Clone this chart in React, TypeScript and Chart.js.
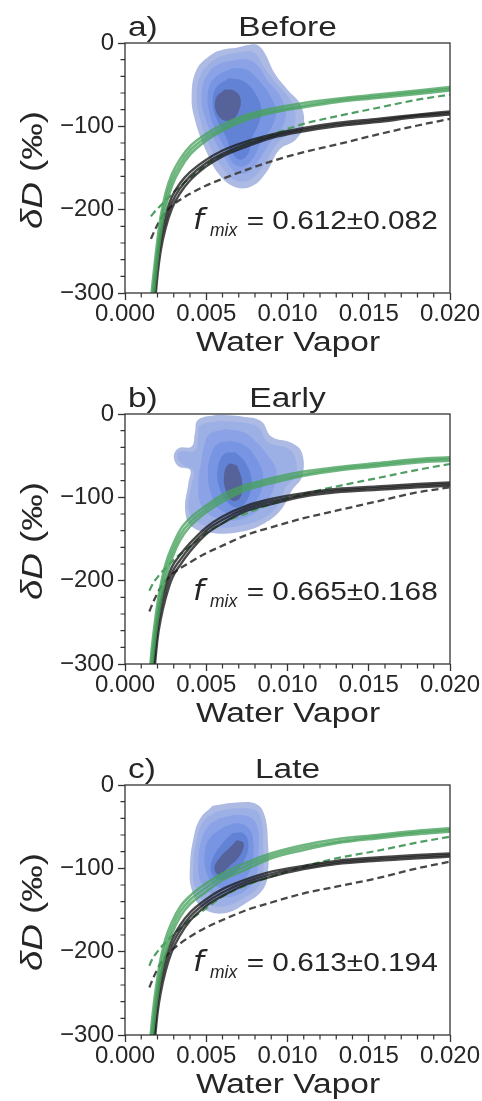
import { useEffect, useRef } from 'react'
import { Chart, registerables } from 'chart.js'

Chart.register(...registerables)

const FONT = "'Liberation Sans', Arial, Helvetica, sans-serif"
const MATH_FONT = "'DejaVu Sans', 'Liberation Sans', sans-serif"
const TEXT = '#262626'

// water vapour grid shared by all mixing curves
const WATER_VAPOR = [0.0015, 0.0016, 0.0018, 0.002, 0.0022, 0.0025, 0.0029, 0.0034, 0.004, 0.005, 0.006, 0.0075, 0.009, 0.011, 0.013, 0.0155, 0.018, 0.02]

const X_MAJOR = [0, 0.005, 0.01, 0.015, 0.02]
const Y_MAJOR = [0, -100, -200, -300]

const PANEL_LETTERS = ['a)', 'b)', 'c)']
const PANEL_TITLES = ['Before', 'Early', 'Late']
const FMIX_TEXT = ['0.612\u00b10.082', '0.665\u00b10.168', '0.613\u00b10.194']

// a) Before
const BEFORE_GREEN_1 = [-345, -310, -270, -236, -208, -180, -157, -139, -124, -109, -98, -86, -79, -72, -67, -62, -57, -53]
const BEFORE_GREEN_2 = [-360, -325, -284, -248, -218, -188, -164, -145, -129, -113, -102, -89, -82, -75, -69, -64, -59, -55]
const BEFORE_GREEN_3 = [-378, -342, -299, -261, -229, -197, -171, -151, -134, -117, -105, -92, -84, -77, -71, -66, -61, -57]
const BEFORE_BLACK_1 = [-400, -362, -296, -254, -228, -206, -184, -168, -155, -140, -129, -118, -110, -102, -96, -91, -86, -82]
const BEFORE_BLACK_2 = [-420, -380, -310, -266, -238, -214, -191, -174, -160, -144, -133, -121, -112, -104, -98, -93, -87, -84]
const BEFORE_BLACK_3 = [-440, -398, -325, -279, -249, -222, -198, -180, -165, -148, -136, -124, -114, -106, -100, -95, -89, -86]
const BEFORE_GREEN_DASHED = [null, -208, -203, -199, -195, -189, -181, -172, -162, -146, -134, -121, -110, -97, -88, -78, -68, -62]
const BEFORE_BLACK_DASHED = [null, -235, -226, -218, -211, -203, -195, -188, -181, -171, -163, -152, -142, -131, -122, -110, -99, -91]

const BEFORE_KDE_1 = [[0.0068, -6], [0.0077, -2], [0.0082, -3], [0.0086, -12], [0.0092, -36], [0.01, -56], [0.0108, -74], [0.011, -98], [0.0105, -116], [0.0095, -128], [0.0087, -155], [0.0078, -172], [0.0068, -173], [0.0058, -158], [0.005, -130], [0.0043, -92], [0.0041, -64], [0.0044, -32], [0.0053, -14], [0.006, -8], [0.0068, -6]]
const BEFORE_KDE_2 = [[0.0068, -12], [0.0076, -10], [0.0081, -14], [0.0086, -30], [0.0093, -48], [0.0101, -66], [0.0105, -86], [0.0102, -106], [0.0093, -122], [0.0085, -148], [0.0077, -164], [0.0068, -165], [0.006, -150], [0.0052, -124], [0.0046, -90], [0.0044, -62], [0.0047, -36], [0.0055, -20], [0.0062, -14], [0.0068, -12]]
const BEFORE_KDE_3 = [[0.0068, -20], [0.0076, -20], [0.0082, -28], [0.0088, -46], [0.0095, -62], [0.0099, -84], [0.0096, -104], [0.0089, -120], [0.0082, -142], [0.0075, -156], [0.0068, -155], [0.0062, -140], [0.0055, -116], [0.0049, -88], [0.0047, -62], [0.005, -40], [0.0057, -26], [0.0068, -20]]
const BEFORE_KDE_4 = [[0.0066, -30], [0.0075, -32], [0.0082, -44], [0.0089, -62], [0.0093, -82], [0.009, -102], [0.0084, -118], [0.0079, -138], [0.0073, -148], [0.0067, -145], [0.0062, -128], [0.0056, -106], [0.0052, -84], [0.0051, -60], [0.0055, -42], [0.0066, -30]]
const BEFORE_KDE_5 = [[0.0064, -42], [0.0073, -46], [0.008, -60], [0.0084, -80], [0.0082, -98], [0.0078, -114], [0.0076, -132], [0.0071, -140], [0.0066, -132], [0.0062, -112], [0.0057, -94], [0.0054, -74], [0.0056, -54], [0.0064, -42]]
const BEFORE_KDE_6 = [[0.0061, -56], [0.0067, -57], [0.0071, -66], [0.007, -82], [0.0066, -92], [0.006, -92], [0.0056, -82], [0.0056, -66], [0.0061, -56]]

// b) Early
const EARLY_GREEN_1 = [-320, -292, -256, -227, -205, -180, -159, -139, -125, -110, -97, -85, -77, -69, -64, -59, -54, -52]
const EARLY_GREEN_2 = [-335, -305, -268, -238, -214, -188, -166, -145, -130, -114, -101, -88, -80, -72, -66, -61, -56, -54]
const EARLY_GREEN_3 = [-352, -320, -281, -249, -224, -197, -173, -151, -135, -118, -105, -91, -83, -74, -68, -63, -58, -56]
const EARLY_BLACK_1 = [-382, -344, -285, -247, -225, -204, -183, -169, -155, -136, -123, -110, -102, -95, -90, -87, -84, -82]
const EARLY_BLACK_2 = [-400, -360, -298, -258, -235, -212, -190, -175, -160, -140, -127, -113, -105, -97, -92, -89, -86, -84]
const EARLY_BLACK_3 = [-420, -378, -312, -270, -246, -221, -197, -181, -165, -144, -131, -116, -108, -99, -94, -91, -88, -86]
const EARLY_GREEN_DASHED = [-212, -208, -201, -196, -191, -185, -177, -168, -159, -143, -131, -119, -108, -96, -87, -77, -67, -60]
const EARLY_BLACK_DASHED = [-237, -232, -223, -215, -208, -200, -192, -185, -178, -167, -158, -145, -136, -125, -116, -105, -94, -88]

const EARLY_KDE_1 = [[0.0057, -1], [0.0072, -3], [0.0084, -9], [0.009, -27], [0.0103, -35], [0.0109, -47], [0.0109, -75], [0.0103, -91], [0.0096, -115], [0.0086, -131], [0.0072, -141], [0.0055, -143], [0.0041, -135], [0.0037, -115], [0.0039, -83], [0.004, -67], [0.0033, -63], [0.003, -51], [0.0033, -41], [0.0041, -39], [0.0043, -23], [0.0045, -7], [0.0057, -1]]
const EARLY_KDE_2 = [[0.0058, -8], [0.0071, -10], [0.0082, -16], [0.0088, -34], [0.0101, -42], [0.0105, -54], [0.0105, -74], [0.0099, -88], [0.0094, -110], [0.0085, -125], [0.0071, -134], [0.0056, -136], [0.0043, -128], [0.0039, -112], [0.0041, -84], [0.0042, -68], [0.0035, -60], [0.0032, -51], [0.0034, -45], [0.0043, -44], [0.0045, -26], [0.0046, -14], [0.0058, -8]]
const EARLY_KDE_3 = [[0.0062, -18], [0.0073, -22], [0.0081, -34], [0.0088, -50], [0.0093, -66], [0.0092, -86], [0.0087, -106], [0.0079, -120], [0.0067, -128], [0.0055, -124], [0.0047, -110], [0.0045, -86], [0.0047, -56], [0.0049, -36], [0.0052, -24], [0.0062, -18]]
const EARLY_KDE_4 = [[0.0065, -32], [0.0074, -38], [0.0081, -54], [0.0085, -74], [0.0083, -96], [0.0077, -112], [0.0067, -120], [0.0058, -114], [0.0053, -96], [0.0051, -72], [0.0053, -48], [0.0057, -36], [0.0065, -32]]
const EARLY_KDE_5 = [[0.0068, -46], [0.0074, -58], [0.0078, -80], [0.0076, -100], [0.007, -112], [0.0063, -106], [0.0058, -88], [0.0057, -66], [0.0061, -48], [0.0068, -46]]
const EARLY_KDE_6 = [[0.0069, -62], [0.0072, -80], [0.0071, -100], [0.0066, -104], [0.0062, -92], [0.0061, -72], [0.0064, -60], [0.0069, -62]]

// c) Late
const LATE_GREEN_1 = [-325, -296, -259, -231, -208, -184, -164, -146, -133, -118, -106, -93, -82, -72, -65, -60, -55, -52]
const LATE_GREEN_2 = [-340, -310, -272, -242, -218, -193, -171, -152, -138, -123, -110, -97, -85, -75, -68, -62, -57, -54]
const LATE_GREEN_3 = [-356, -325, -286, -254, -228, -202, -178, -158, -143, -128, -114, -101, -88, -78, -70, -64, -59, -56]
const LATE_BLACK_1 = [-382, -346, -289, -251, -228, -206, -185, -168, -153, -137, -125, -113, -104, -97, -91, -87, -84, -82]
const LATE_BLACK_2 = [-400, -362, -302, -262, -238, -214, -192, -174, -158, -141, -129, -116, -107, -99, -93, -89, -86, -84]
const LATE_BLACK_3 = [-420, -380, -316, -274, -249, -223, -199, -180, -163, -145, -133, -119, -110, -101, -95, -91, -88, -86]
const LATE_GREEN_DASHED = [-217, -212, -205, -200, -195, -189, -181, -172, -162, -148, -134, -120, -110, -98, -88, -79, -69, -62]
const LATE_BLACK_DASHED = [-243, -238, -229, -221, -214, -206, -198, -190, -182, -171, -162, -150, -141, -130, -122, -112, -100, -92]

const LATE_KDE_1 = [[0.0054, -25], [0.0069, -21], [0.0081, -23], [0.0086, -37], [0.0088, -69], [0.0088, -105], [0.0085, -125], [0.0075, -141], [0.0061, -154], [0.0048, -148], [0.0041, -125], [0.004, -97], [0.0042, -65], [0.0046, -41], [0.0054, -25]]
const LATE_KDE_2 = [[0.0056, -32], [0.0069, -28], [0.008, -30], [0.0084, -42], [0.0085, -70], [0.0085, -104], [0.0082, -122], [0.0073, -136], [0.006, -146], [0.0049, -140], [0.0043, -122], [0.0042, -96], [0.0044, -66], [0.0048, -44], [0.0056, -32]]
const LATE_KDE_3 = [[0.0058, -40], [0.0069, -36], [0.0078, -40], [0.0082, -54], [0.0082, -84], [0.0081, -108], [0.0076, -124], [0.0066, -134], [0.0055, -132], [0.0047, -118], [0.0045, -94], [0.0047, -66], [0.0051, -50], [0.0058, -40]]
const LATE_KDE_4 = [[0.0061, -50], [0.007, -46], [0.0077, -54], [0.0079, -72], [0.0078, -96], [0.0073, -114], [0.0064, -124], [0.0055, -120], [0.005, -104], [0.0049, -84], [0.0052, -64], [0.0061, -50]]
const LATE_KDE_5 = [[0.0066, -58], [0.0073, -58], [0.0076, -72], [0.0073, -92], [0.0066, -108], [0.0058, -114], [0.0053, -104], [0.0054, -88], [0.006, -70], [0.0066, -58]]
const LATE_KDE_6 = [[0.0069, -66], [0.0073, -70], [0.0071, -84], [0.0064, -98], [0.0058, -108], [0.0055, -100], [0.0058, -88], [0.0064, -76], [0.0069, -66]]

const KDE_COLORS = ['#adbae4', '#9db0e6', '#8ba3e6', '#7795e2', '#6182d5', '#56639a']

const PANELS = [
  {
    green: [BEFORE_GREEN_1, BEFORE_GREEN_2, BEFORE_GREEN_3],
    black: [BEFORE_BLACK_1, BEFORE_BLACK_2, BEFORE_BLACK_3],
    greenDashed: BEFORE_GREEN_DASHED,
    blackDashed: BEFORE_BLACK_DASHED,
    kde: [BEFORE_KDE_1, BEFORE_KDE_2, BEFORE_KDE_3, BEFORE_KDE_4, BEFORE_KDE_5, BEFORE_KDE_6],
  },
  {
    green: [EARLY_GREEN_1, EARLY_GREEN_2, EARLY_GREEN_3],
    black: [EARLY_BLACK_1, EARLY_BLACK_2, EARLY_BLACK_3],
    greenDashed: EARLY_GREEN_DASHED,
    blackDashed: EARLY_BLACK_DASHED,
    kde: [EARLY_KDE_1, EARLY_KDE_2, EARLY_KDE_3, EARLY_KDE_4, EARLY_KDE_5, EARLY_KDE_6],
  },
  {
    green: [LATE_GREEN_1, LATE_GREEN_2, LATE_GREEN_3],
    black: [LATE_BLACK_1, LATE_BLACK_2, LATE_BLACK_3],
    greenDashed: LATE_GREEN_DASHED,
    blackDashed: LATE_BLACK_DASHED,
    kde: [LATE_KDE_1, LATE_KDE_2, LATE_KDE_3, LATE_KDE_4, LATE_KDE_5, LATE_KDE_6],
  },
]

const isMajorX = (v: number) => X_MAJOR.some((m) => Math.abs(m - v) < 1e-7)
const isMajorY = (v: number) => Y_MAJOR.some((m) => Math.abs(m - v) < 1e-7)

// draws text stretched horizontally by sx
function drawText(ctx: CanvasRenderingContext2D, text: string, x: number, y: number, font: string, align: 'left' | 'center', sx: number) {
  ctx.save()
  ctx.font = font
  ctx.textAlign = 'left'
  ctx.textBaseline = 'alphabetic'
  const w = ctx.measureText(text).width * sx
  const x0 = align === 'center' ? x - w / 2 : x
  ctx.translate(x0, y)
  ctx.scale(sx, 1)
  ctx.fillText(text, 0, 0)
  ctx.restore()
}

function MixingPanel({ index, height }: { index: number; height: number }) {
  const canvasRef = useRef<HTMLCanvasElement>(null)

  useEffect(() => {
    if (!canvasRef.current) return
    const panel = PANELS[index]

    const curve = (ys: (number | null)[], color: string, width: number, dash: number[], order: number) => ({
      data: WATER_VAPOR.map((x, i) => ({ x, y: ys[i] })),
      borderColor: color,
      borderWidth: width,
      borderDash: dash,
      fill: false,
      cubicInterpolationMode: 'monotone',
      pointRadius: 0,
      order,
    })

    const kde = panel.kde.map((poly, i) => ({
      data: poly.map(([x, y]) => ({ x, y })),
      backgroundColor: KDE_COLORS[i],
      borderColor: 'rgba(0,0,0,0)',
      borderWidth: 0,
      fill: 'shape',
      tension: 0.4,
      pointRadius: 0,
      order: 30 - i,
    }))

    const datasets = [
      ...kde,
      curve(panel.blackDashed, '#474747', 2.3, [7, 4], 9),
      curve(panel.greenDashed, '#4f9e63', 2.2, [7, 4], 8),
      ...panel.black.map((ys, i) => curve(ys, 'rgba(28,28,28,0.8)', 2.4, [], 6 - i)),
      ...panel.green.map((ys, i) => curve(ys, 'rgba(72,162,92,0.78)', 2.6, [], 3 - i)),
    ]

    const decor = {
      id: 'panelDecor',
      afterDraw(chart: Chart) {
        const { ctx, chartArea: a } = chart
        const xs = chart.scales.x
        const ys = chart.scales.y
        ctx.save()
        ctx.strokeStyle = '#333'
        ctx.lineWidth = 1.2
        ctx.beginPath()
        for (const t of xs.ticks) {
          if (isMajorX(t.value)) continue
          const px = xs.getPixelForValue(t.value)
          ctx.moveTo(px, a.bottom)
          ctx.lineTo(px, a.bottom + 4.5)
        }
        for (const t of ys.ticks) {
          if (isMajorY(t.value)) continue
          const py = ys.getPixelForValue(t.value)
          ctx.moveTo(a.left - 4.5, py)
          ctx.lineTo(a.left, py)
        }
        ctx.stroke()
        ctx.lineWidth = 1.3
        ctx.strokeRect(a.left, a.top, a.width, a.height)

        ctx.fillStyle = TEXT
        const cx = a.left + a.width / 2
        drawText(ctx, PANEL_LETTERS[index], a.left + 3, a.top - 7, `27px ${FONT}`, 'left', 1.24)
        drawText(ctx, PANEL_TITLES[index], cx, a.top - 7, `27px ${FONT}`, 'center', 1.24)
        drawText(ctx, 'Water Vapor', cx + 0.5, a.bottom + 58, `27px ${FONT}`, 'center', 1.24)

        // f_mix annotation
        const base = a.top + 186
        drawText(ctx, 'f', a.left + 68, base, `italic 28px ${MATH_FONT}`, 'left', 1.1)
        drawText(ctx, 'mix', a.left + 85, base + 6.5, `italic 19px ${FONT}`, 'left', 0.92)
        ctx.font = `26px ${FONT}`
        const label = '= ' + FMIX_TEXT[index]
        const sx = 191 / ctx.measureText(label).width
        drawText(ctx, label, a.left + 121.7, base, `26px ${FONT}`, 'left', sx)

        // y axis title, rotated
        ctx.save()
        ctx.translate(a.left - 83, a.top + a.height / 2 + 2)
        ctx.rotate(-Math.PI / 2)
        ctx.scale(1.22, 1)
        ctx.font = `italic 30px ${FONT}`
        const w1 = ctx.measureText('\u03b4D').width
        ctx.font = `30px ${FONT}`
        const w2 = ctx.measureText(' (\u2030)').width
        let x = -(w1 + w2) / 2
        ctx.font = `italic 30px ${FONT}`
        ctx.fillText('\u03b4D', x, 0)
        x += w1
        ctx.font = `30px ${FONT}`
        ctx.fillText(' (\u2030)', x, 0)
        ctx.restore()

        ctx.restore()
      },
    }

    const chart = new Chart(canvasRef.current, {
      type: 'line',
      data: { datasets: datasets as any },
      options: {
        responsive: true,
        maintainAspectRatio: false,
        animation: false,
        events: [],
        layout: { padding: { top: 35, right: 32, left: 0, bottom: 0 } },
        plugins: {
          legend: { display: false },
          tooltip: { enabled: false },
        },
        scales: {
          x: {
            type: 'linear',
            min: 0,
            max: 0.02,
            afterFit: (s: any) => {
              s.height = height - 285
            },
            border: { display: false },
            grid: {
              drawOnChartArea: false,
              drawTicks: true,
              tickLength: 7,
              tickWidth: 1.3,
              tickColor: (c: any) => (c.tick && isMajorX(c.tick.value) ? '#333' : 'rgba(0,0,0,0)'),
            },
            ticks: {
              stepSize: 0.001,
              autoSkip: false,
              maxRotation: 0,
              minRotation: 0,
              padding: 0,
              color: TEXT,
              font: { family: FONT, size: 24 },
              callback: (v: any) => (isMajorX(Number(v)) ? Number(v).toFixed(3) : ''),
            },
          },
          y: {
            type: 'linear',
            min: -300,
            max: 0,
            afterFit: (s: any) => {
              s.width = 117
            },
            border: { display: false },
            grid: {
              drawOnChartArea: false,
              drawTicks: true,
              tickLength: 7,
              tickWidth: 1.3,
              tickColor: (c: any) => (c.tick && isMajorY(c.tick.value) ? '#333' : 'rgba(0,0,0,0)'),
            },
            ticks: {
              stepSize: 20,
              autoSkip: false,
              padding: 4,
              color: TEXT,
              font: { family: FONT, size: 24 },
              callback: (v: any) => {
                const n = Number(v)
                if (!isMajorY(n)) return ''
                return n === 0 ? '0' : '\u2212' + Math.abs(n)
              },
            },
          },
        },
      },
      plugins: [decor],
    })

    return () => {
      chart.destroy()
    }
  }, [index, height])

  return (
    <div style={{ position: 'relative', width: 474, height }}>
      <canvas ref={canvasRef} />
    </div>
  )
}

export default function App() {
  return (
    <div style={{ position: 'absolute', left: 8, top: 8, width: 474, height: 1093, overflow: 'hidden', background: '#fff' }}>
      <MixingPanel index={0} height={371} />
      <MixingPanel index={1} height={371} />
      <MixingPanel index={2} height={351} />
    </div>
  )
}
